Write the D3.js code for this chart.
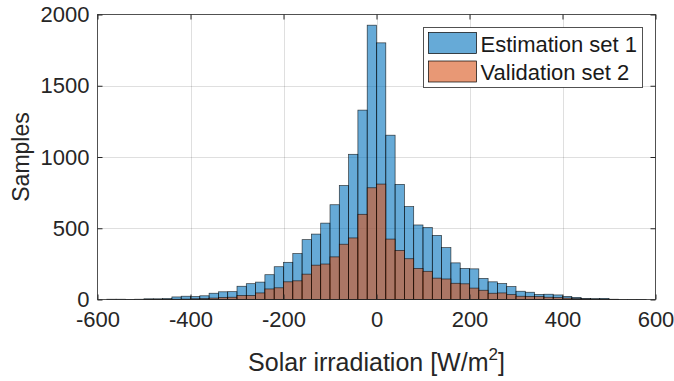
<!DOCTYPE html>
<html>
<head>
<meta charset="utf-8">
<script src="https://cdn.jsdelivr.net/npm/d3@7"></script>
<style>
    body { margin: 0; background: #fff; }
    svg { display: block; font-family: "Liberation Sans", Arial, sans-serif; }
    .tick text { fill: #262626; }
</style>
</head>
<body>
<svg id="chart" width="674" height="381"></svg>
<script>
// bin edges: 20 W/m2 wide, -600 .. 600
const binStart = -600;
const binWidth = 20;

// counts per bin, left to right
const estimationCounts = [
    0, 2, 2, 1, 2, 5, 5, 7, 18, 23,
    21, 26, 44, 54, 55, 93, 111, 122, 174, 230,
    261, 322, 420, 459, 536, 665, 800, 1019, 1329, 1925,
    1801, 1153, 808, 652, 523, 505, 450, 364, 257, 218,
    215, 148, 124, 112, 91, 58, 51, 36, 37, 32,
    22, 15, 8, 6, 8, 2, 1, 1, 1, 0
];
const validationCounts = [
    0, 0, 0, 0, 0, 1, 1, 1, 2, 3,
    5, 6, 10, 14, 16, 28, 28, 46, 74, 82,
    124, 131, 178, 241, 249, 299, 388, 432, 598, 784,
    810, 424, 344, 286, 218, 198, 150, 144, 114, 110,
    80, 65, 44, 46, 34, 23, 22, 20, 16, 13,
    10, 6, 4, 2, 2, 1, 0, 0, 0, 0
];

const seriesNames = ["Estimation set 1", "Validation set 2"];
const seriesColors = ["#0072BD", "#D95319"];

const xTicks = [-600, -400, -200, 0, 200, 400, 600];
const yTicks = [0, 500, 1000, 1500, 2000];

const svg = d3.select("#chart");

const plot = {left: 97.5, right: 655.5, top: 14.5, bottom: 299.5};

// plain numbers, ascii hyphen for negatives (like matlab)
const plainFormat = d => String(d);

let x = d3.scaleLinear()
    .domain([-600, 600])
    .range([plot.left, plot.right]);

let y = d3.scaleLinear()
    .domain([0, 2000])
    .range([plot.bottom, plot.top]);

// grid first, bars cover it
let grid = svg.append("g").attr("class", "grid");

grid.selectAll("line.vg")
    .data(xTicks.slice(1, -1))
    .join("line")
    .attr("x1", d => Math.round(x(d)) + 0.5)
    .attr("x2", d => Math.round(x(d)) + 0.5)
    .attr("y1", plot.top)
    .attr("y2", plot.bottom)
    .style("stroke", "#262626")
    .style("stroke-opacity", 0.15);

grid.selectAll("line.hg")
    .data(yTicks.slice(1, -1))
    .join("line")
    .attr("y1", d => Math.round(y(d)) + 0.5)
    .attr("y2", d => Math.round(y(d)) + 0.5)
    .attr("x1", plot.left)
    .attr("x2", plot.right)
    .style("stroke", "#262626")
    .style("stroke-opacity", 0.15);

function drawHist(counts, color) {
    let bins = counts.map(function(c, i) {
        return {x0: binStart + i * binWidth, x1: binStart + (i + 1) * binWidth, count: c};
    }).filter(d => d.count > 0);

    svg.append("g")
        .selectAll("rect")
        .data(bins)
        .join("rect")
        .attr("x", d => x(d.x0))
        .attr("width", d => x(d.x1) - x(d.x0))
        .attr("y", d => y(d.count))
        .attr("height", d => y(0) - y(d.count))
        .style("fill", color)
        .style("fill-opacity", 0.6)
        .style("stroke", "#000")
        .style("stroke-opacity", 0.75)
        .style("stroke-width", 0.7);
}

drawHist(estimationCounts, seriesColors[0]);
drawHist(validationCounts, seriesColors[1]);

// axes: ticks point inward, box on all four sides
const tickLen = 5;

let xAxis = svg.append("g")
    .attr("transform", `translate(0,${plot.bottom})`)
    .call(d3.axisBottom(x).tickValues(xTicks).tickFormat(plainFormat)
          .tickSizeInner(-tickLen).tickSizeOuter(0).tickPadding(12))
    .style("font-size", "22px");
xAxis.selectAll(".tick text").attr("dy", "0.71em");

svg.append("g")
    .attr("transform", `translate(0,${plot.top})`)
    .call(d3.axisTop(x).tickValues(xTicks).tickSizeInner(-tickLen).tickSizeOuter(0).tickFormat(""));

svg.append("g")
    .attr("transform", `translate(${plot.left},0)`)
    .call(d3.axisLeft(y).tickValues(yTicks).tickFormat(plainFormat)
          .tickSizeInner(-tickLen).tickSizeOuter(0).tickPadding(8))
    .style("font-size", "22px");

svg.append("g")
    .attr("transform", `translate(${plot.right},0)`)
    .call(d3.axisRight(y).tickValues(yTicks).tickSizeInner(-tickLen).tickSizeOuter(0).tickFormat(""));

svg.selectAll(".domain").remove();
svg.selectAll(".tick line").style("stroke", "#262626");

svg.append("rect")
    .attr("x", plot.left)
    .attr("y", plot.top)
    .attr("width", plot.right - plot.left)
    .attr("height", plot.bottom - plot.top)
    .style("fill", "none")
    .style("stroke", "#262626")
    .style("stroke-opacity", 0.8);

// labels
let xlabel = svg.append("text")
    .attr("x", (plot.left + plot.right) / 2)
    .attr("y", 371)
    .attr("text-anchor", "middle")
    .style("font-size", "25px")
    .style("fill", "#262626");
xlabel.append("tspan").text("Solar irradiation [W/m");
xlabel.append("tspan").text("2").attr("dy", -11).style("font-size", "17px");
xlabel.append("tspan").text("]").attr("dy", 11);

svg.append("text")
    .text("Samples")
    .attr("text-anchor", "middle")
    .attr("transform", `translate(${[29, (plot.top + plot.bottom) / 2]}) rotate(-90)`)
    .style("font-size", "23px")
    .style("fill", "#262626");

// legend
let legend = svg.append("g").attr("transform", "translate(423.5,27.5)");

legend.append("rect")
    .attr("width", 219)
    .attr("height", 60)
    .style("fill", "#fff")
    .style("stroke", "#262626")
    .style("stroke-opacity", 0.8);

let items = legend.selectAll("g.item")
    .data(seriesNames)
    .join("g")
    .attr("transform", (d, i) => `translate(5,${5 + i * 28.5})`);

items.append("rect")
    .attr("width", 48)
    .attr("height", 21)
    .style("fill", (d, i) => seriesColors[i])
    .style("fill-opacity", 0.6)
    .style("stroke", "#000")
    .style("stroke-width", 0.7);

items.append("text")
    .text(d => d)
    .attr("x", 52)
    .attr("y", 19)
    .style("font-size", "22px")
    .style("fill", "#1a1a1a");
</script>
</body>
</html>
